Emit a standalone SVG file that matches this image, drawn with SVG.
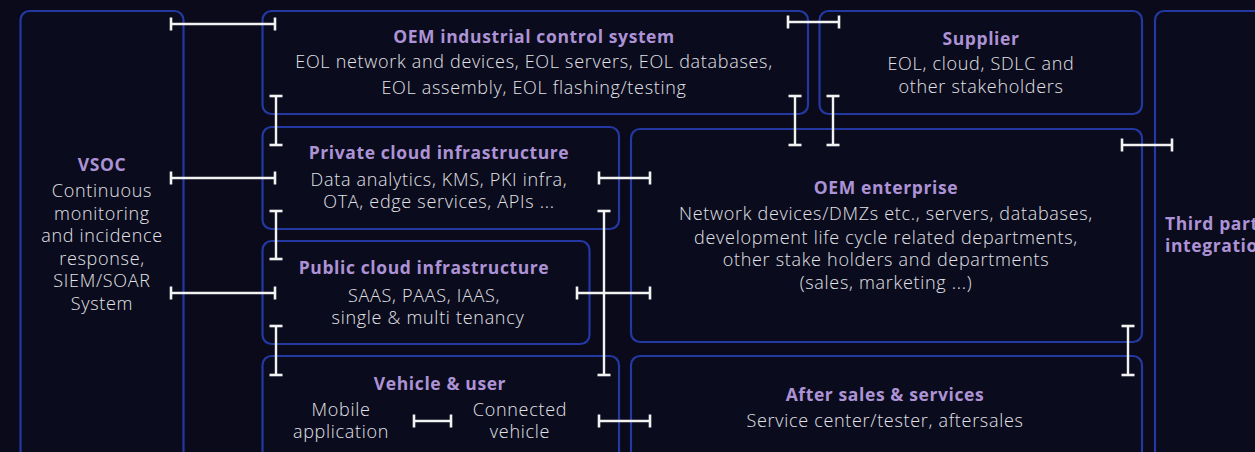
<svg xmlns="http://www.w3.org/2000/svg" width="1255" height="452" viewBox="0 0 1255 452">
  <style>
    .box { fill: #0a0b1c; stroke: #2438a2; stroke-width: 2.2; }
    .ttl { font-family: "Open Sans", "Noto Sans", sans-serif; font-weight: 700; font-size: 17.5px; letter-spacing: 0.6px; fill: #ad93d6; text-anchor: middle; }
    .txt { font-family: "Open Sans", "Noto Sans", sans-serif; font-weight: 300; font-size: 18px; letter-spacing: 0.7px; fill: #e2e2e8; text-anchor: middle; }
    .lnk { fill: none; stroke: #f2f2f2; stroke-width: 2.4; marker-start: url(#cap); marker-end: url(#cap); }
  </style>
  <defs>
    <marker id="cap" markerUnits="userSpaceOnUse" viewBox="-2 -8 4 16" markerWidth="4" markerHeight="16" refX="0" refY="0" orient="auto">
      <path d="M0,-6.5 L0,6.5" stroke="#f2f2f2" stroke-width="2.6"/>
    </marker>
  </defs>

  <rect x="0" y="0" width="1255" height="452" fill="#0a0a1b"/>

  <g id="vsoc">
    <rect class="box" x="20.5" y="11" width="163" height="480" rx="9"/>
    <text class="ttl" x="102" y="171">VSOC</text>
    <text class="txt" x="102" y="197">Continuous</text>
    <text class="txt" x="102" y="220">monitoring</text>
    <text class="txt" x="102" y="242">and incidence</text>
    <text class="txt" x="102" y="265">response,</text>
    <text class="txt" x="102" y="287">SIEM/SOAR</text>
    <text class="txt" x="102" y="310">System</text>
  </g>

  <g id="oem-ics">
    <rect class="box" x="262.5" y="11" width="545.5" height="103" rx="9"/>
    <text class="ttl" x="534" y="43">OEM industrial control system</text>
    <text class="txt" x="534" y="68">EOL network and devices, EOL servers, EOL databases,</text>
    <text class="txt" x="534" y="94">EOL assembly, EOL flashing/testing</text>
  </g>

  <g id="supplier">
    <rect class="box" x="819.5" y="11" width="322.5" height="103" rx="9"/>
    <text class="ttl" x="981" y="45">Supplier</text>
    <text class="txt" x="981" y="70">EOL, cloud, SDLC and</text>
    <text class="txt" x="981" y="93">other stakeholders</text>
  </g>

  <g id="third-party">
    <rect class="box" x="1155" y="11" width="140" height="480" rx="9"/>
    <text class="ttl" x="1165" y="230" style="text-anchor:start">Third party</text>
    <text class="ttl" x="1165" y="252" style="text-anchor:start">integration</text>
  </g>

  <g id="private-cloud">
    <rect class="box" x="262.5" y="127" width="356.5" height="102" rx="9"/>
    <text class="ttl" x="439" y="159">Private cloud infrastructure</text>
    <text class="txt" x="439" y="186">Data analytics, KMS, PKI infra,</text>
    <text class="txt" x="439" y="208">OTA, edge services, APIs ...</text>
  </g>

  <g id="oem-enterprise">
    <rect class="box" x="631" y="129" width="511" height="213" rx="9"/>
    <text class="ttl" x="886" y="194">OEM enterprise</text>
    <text class="txt" x="886" y="220">Network devices/DMZs etc., servers, databases,</text>
    <text class="txt" x="886" y="244">development life cycle related departments,</text>
    <text class="txt" x="886" y="266">other stake holders and departments</text>
    <text class="txt" x="886" y="289">(sales, marketing ...)</text>
  </g>

  <g id="public-cloud">
    <rect class="box" x="262.5" y="241" width="327" height="103" rx="9"/>
    <text class="ttl" x="424" y="274">Public cloud infrastructure</text>
    <text class="txt" x="424" y="302">SAAS, PAAS, IAAS,</text>
    <text class="txt" x="428" y="324">single &amp; multi tenancy</text>
  </g>

  <g id="vehicle-user">
    <rect class="box" x="262.5" y="356" width="356.5" height="140" rx="9"/>
    <text class="ttl" x="440" y="390">Vehicle &amp; user</text>
    <text class="txt" x="341" y="416">Mobile</text>
    <text class="txt" x="341" y="438">application</text>
    <text class="txt" x="520" y="416">Connected</text>
    <text class="txt" x="520" y="438">vehicle</text>
  </g>

  <g id="after-sales">
    <rect class="box" x="631" y="356" width="511" height="140" rx="9"/>
    <text class="ttl" x="885" y="401">After sales &amp; services</text>
    <text class="txt" x="885" y="427">Service center/tester, aftersales</text>
  </g>

  <g id="connectors">
    <path class="lnk" d="M171,24 H275"/>
    <path class="lnk" d="M788,22 H839"/>
    <path class="lnk" d="M276,96 V145"/>
    <path class="lnk" d="M795,96 V145"/>
    <path class="lnk" d="M833,96 V145"/>
    <path class="lnk" d="M1122,145 H1172"/>
    <path class="lnk" d="M171,178 H275"/>
    <path class="lnk" d="M599,178 H650"/>
    <path class="lnk" d="M276,211 V259"/>
    <path class="lnk" d="M604,211 V375"/>
    <path class="lnk" d="M171,293 H275"/>
    <path class="lnk" d="M577,293 H650"/>
    <path class="lnk" d="M276,326 V375"/>
    <path class="lnk" d="M1128,326 V375"/>
    <path class="lnk" d="M414,421 H451"/>
    <path class="lnk" d="M599,421 H650"/>
  </g>
</svg>
